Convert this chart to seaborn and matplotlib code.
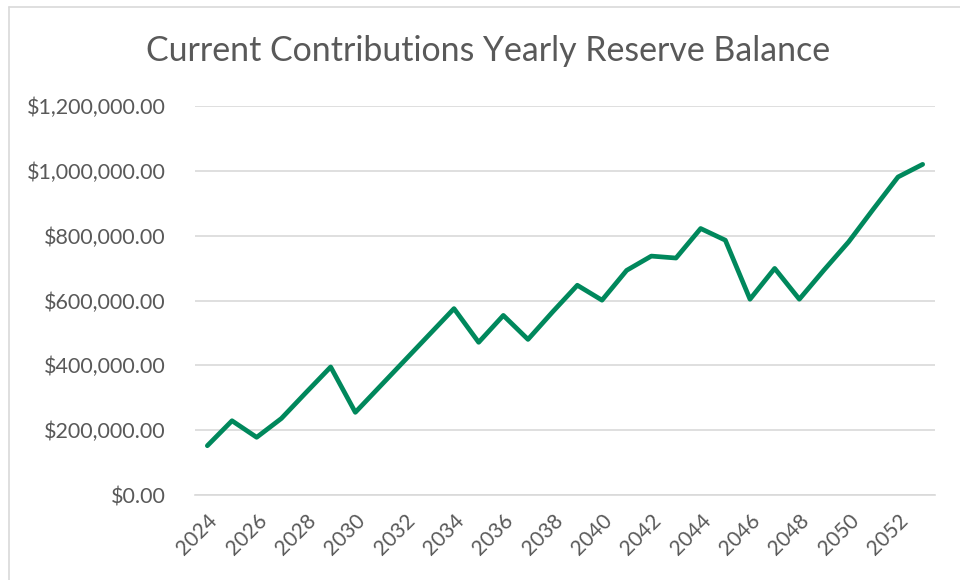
import matplotlib
matplotlib.use("Agg")
import matplotlib.pyplot as plt
import matplotlib.ticker as mticker
from matplotlib.lines import Line2D
import seaborn as sns
import pandas as pd

# data
years = list(range(2024, 2054))
balance = [152000, 229000, 178000, 236000, 316000, 395000, 255000, 335000,
           415000, 495000, 575000, 471000, 554000, 480000, 565000, 647000,
           601000, 693000, 737000, 731000, 822000, 786000, 604000, 699000,
           604000, 694000, 781000, 882000, 981000, 1020000]
y_ticks = [0, 200000, 400000, 600000, 800000, 1000000, 1200000]

df = pd.DataFrame({"pos": range(len(years)), "year": years, "balance": balance})

sns.set_style("white")
plt.rcParams["font.family"] = ["Lato", "DejaVu Sans"]

grid_col = "#d9d9d9"
text_col = "#595959"

fig = plt.figure(figsize=(9.6, 5.8), dpi=100)
ax = fig.add_axes([195 / 960, 1 - 495 / 580, 740 / 960, 389 / 580])

sns.lineplot(data=df, x="pos", y="balance", ax=ax, color="#00885C", linewidth=3.4,
             solid_capstyle="round", solid_joinstyle="round")

ax.set_xlim(-0.5, len(years) - 0.5)
ax.set_ylim(0, 1200000)
ax.set_yticks(y_ticks)
ax.yaxis.set_major_formatter(mticker.FuncFormatter(lambda v, p: "${:,.2f}".format(v)))
ax.grid(axis="y", color=grid_col, linewidth=1.2)
ax.set_axisbelow(True)

# category labels every second year, tick marks on the category boundaries
ax.set_xticks(df["pos"][::2])
ax.set_xticklabels([str(y) for y in years[::2]], rotation=45, ha="right",
                   rotation_mode="anchor")
ax.set_xticks([p - 0.5 for p in range(0, len(years) + 1, 2)], minor=True)
ax.tick_params(axis="x", which="major", length=0, pad=11, labelsize=15, colors=text_col)
ax.tick_params(axis="x", which="minor", length=6, width=1.2, color=grid_col, direction="out")
ax.tick_params(axis="y", length=0, pad=21, labelsize=15.5, colors=text_col)

for s in ["top", "right", "left"]:
    ax.spines[s].set_visible(False)
ax.spines["bottom"].set_color(grid_col)
ax.spines["bottom"].set_linewidth(1.2)

ax.set_xlabel("")
ax.set_ylabel("")

fig.text(0.5 + 8 / 960, 1 - 51 / 580, "Current Contributions Yearly Reserve Balance",
         ha="center", va="center", fontsize=24.4, color=text_col)

# chart frame (cut off on the right and bottom like the screenshot)
fx = 9 / 960
fy = 1 - 7 / 580
fig.add_artist(Line2D([fx, fx], [0, fy], color=grid_col, linewidth=1.2))
fig.add_artist(Line2D([fx, 1], [fy, fy], color=grid_col, linewidth=1.2))

fig.savefig("out.png", dpi=100)
